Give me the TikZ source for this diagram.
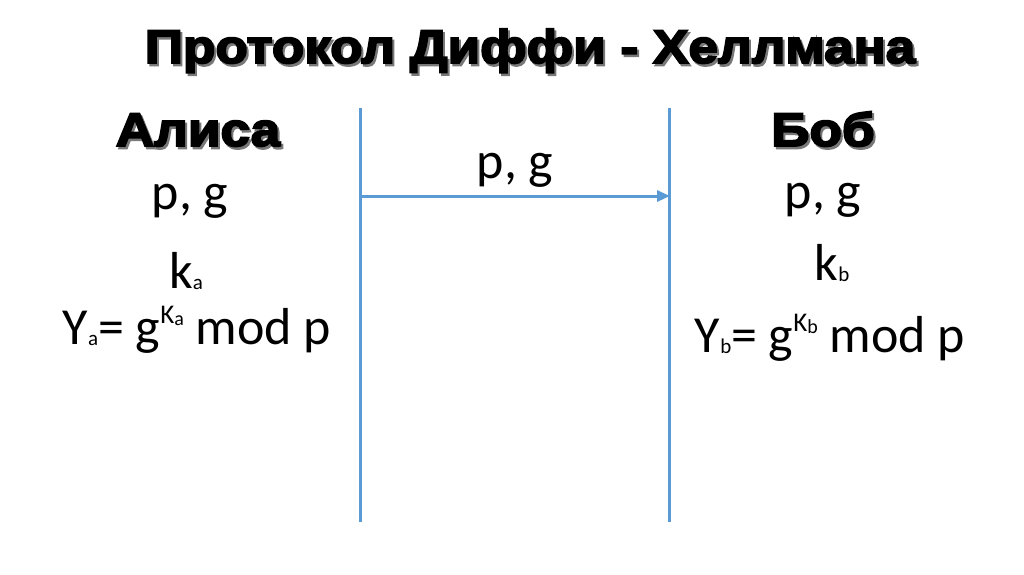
\documentclass[tikz,border=0pt]{standalone}
\usepackage{fontspec}
\usetikzlibrary{arrows.meta}
\newfontfamily\bodyfont{Carlito}
\newfontfamily\headfont[FakeBold=4,FakeStretch=1.13]{Liberation Sans Bold}
\definecolor{lineblue}{RGB}{91,155,213}
\definecolor{shadowgray}{RGB}{120,120,120}
\newcommand{\lsub}[1]{\raisebox{-1pt}{\fontsize{21}{21}\selectfont #1}}
\newcommand{\lsup}[2]{\raisebox{21pt}{\fontsize{27}{27}\selectfont #1\raisebox{-2pt}{\fontsize{20}{20}\selectfont #2}}}
\tikzset{
  body/.style={font=\bodyfont\fontsize{52}{52}\selectfont, inner sep=0pt, anchor=base, text=black},
  head/.style={font=\headfont\fontsize{47}{47}\selectfont, inner sep=0pt, anchor=base, text=black},
  headshadow/.style={head, text=shadowgray},
  wire/.style={draw=lineblue, line width=3pt},
}
\begin{document}
\begin{tikzpicture}[x=1pt,y=-1pt]
\useasboundingbox (0,0) rectangle (1024,574);
% title
\node[headshadow] (titleS) at (532,65.5) {Протокол Диффи - Хеллмана};
\node[head] (title) at (530,63) {Протокол Диффи - Хеллмана};
% Alice
\node[headshadow] (aliceS) at (200,148.5) {Алиса};
\node[head] (alice) at (198,146) {Алиса};
\node[body] (apg) at (190,209) {p, g};
\node[body] (aka) at (186,288) {k\lsub{a}};
\node[body] (aya) at (197,344) {Y\lsub{a}= g\lsup{K}{a} mod p};
% Bob
\node[headshadow] (bobS) at (825,148.5) {Боб};
\node[head] (bob) at (823,146) {Боб};
\node[body] (bpg) at (823,208) {p, g};
\node[body] (bkb) at (832,280) {k\lsub{b}};
\node[body] (byb) at (830,352) {Y\lsub{b}= g\lsup{K}{b} mod p};
% lines
\coordinate (lt) at (360,108);
\coordinate (lb) at (360,522);
\coordinate (rt) at (669,108);
\coordinate (rb) at (669,522);
\coordinate (as) at (360,196);
\coordinate (ae) at (669,196);
\draw[wire] (lt) -- (lb);
\draw[wire] (rt) -- (rb);
\draw[wire, -{Triangle[length=13pt,width=11pt]}, shorten >=-1pt] (as) -- (ae);
\node[body] (mpg) at (515,178) {p, g};
\end{tikzpicture}
\end{document}
